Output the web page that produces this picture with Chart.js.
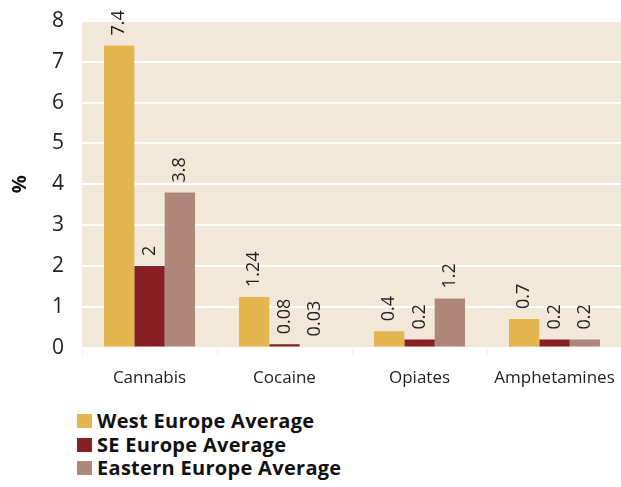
<!DOCTYPE html>
<html>
<head>
<meta charset="utf-8">
<script src="https://cdn.jsdelivr.net/npm/chart.js@4"></script>
<style>
  body { margin: 0; background: #fff; }
  #wrap { position: relative; width: 621px; height: 487px; overflow: hidden; }
  #chart { position: absolute; left: 0; top: 0; }
  #legend { position: absolute; left: 77px; top: 409px; font-family: "Open Sans", sans-serif;
            font-weight: bold; font-size: 20px; letter-spacing: 0.3px; line-height: 23.5px; color: #111; }
  #legend .box { display: inline-block; width: 15px; height: 14px; margin-right: 5px; vertical-align: baseline; }
</style>
</head>
<body>
<div id="wrap">
  <canvas id="chart" width="622" height="400"></canvas>
  <div id="legend"></div>
</div>
<script>
const categories = ["Cannabis", "Cocaine", "Opiates", "Amphetamines"];
const westEurope = [7.4, 1.24, 0.4, 0.7];
const seEurope = [2, 0.08, 0.2, 0.2];
const easternEurope = [3.8, 0.03, 1.2, 0.2];
const seriesNames = ["West Europe Average", "SE Europe Average", "Eastern Europe Average"];
const seriesColors = ["#e3b650", "#862025", "#ae877a"];

// beige plot background
const plotBackground = {
  id: "plotBackground",
  beforeDraw(chart) {
    const a = chart.chartArea;
    const ctx = chart.ctx;
    ctx.save();
    ctx.fillStyle = "#f1e8d9";
    ctx.fillRect(a.left, a.top, a.right - a.left, a.bottom - a.top);
    ctx.restore();
  }
};

// rotated value labels above the bars
const valueLabels = {
  id: "valueLabels",
  afterDatasetsDraw(chart) {
    const ctx = chart.ctx;
    ctx.save();
    ctx.font = "18px 'Open Sans', sans-serif";
    ctx.fillStyle = "#222";
    ctx.textAlign = "left";
    ctx.textBaseline = "middle";
    chart.data.datasets.forEach((ds, i) => {
      chart.getDatasetMeta(i).data.forEach((bar, j) => {
        ctx.save();
        ctx.translate(bar.x, bar.y - 10);
        ctx.rotate(-Math.PI / 2);
        ctx.fillText(String(ds.data[j]), 0, 0);
        ctx.restore();
      });
    });
    ctx.restore();
  }
};

const chart = new Chart(document.getElementById("chart").getContext("2d"), {
  type: "bar",
  data: {
    labels: categories,
    datasets: [westEurope, seEurope, easternEurope].map((d, i) => ({
      label: seriesNames[i],
      data: d,
      backgroundColor: seriesColors[i],
      categoryPercentage: 0.675,
      barPercentage: 1.0,
    })),
  },
  options: {
    responsive: false,
    animation: false,
    layout: { padding: 0 },
    plugins: {
      legend: { display: false },
      tooltip: { enabled: false },
    },
    scales: {
      x: {
        afterFit: (scale) => { scale.paddingRight = 0; scale.paddingLeft = 0; },
        grid: { drawOnChartArea: false, color: "#f2f2f2", tickLength: 8 },
        border: { display: false },
        ticks: { color: "#222", padding: 12, font: { family: "Open Sans", size: 17 } },
      },
      y: {
        min: 0,
        max: 8,
        afterFit: (scale) => { scale.width = 82; scale.paddingTop = 21; scale.paddingBottom = 0; },
        grid: { color: "#ffffff", lineWidth: 2, drawTicks: false },
        border: { display: false },
        ticks: { stepSize: 1, color: "#222", padding: 18, font: { family: "Open Sans", size: 21 } },
        title: { display: true, text: "%", color: "#111", padding: 8,
                 font: { family: "Open Sans", size: 20, weight: "bold" } },
      },
    },
  },
  plugins: [plotBackground, valueLabels],
});

const legend = document.getElementById("legend");
chart.data.datasets.forEach((ds) => {
  const row = document.createElement("div");
  const box = document.createElement("span");
  box.className = "box";
  box.style.background = ds.backgroundColor;
  row.appendChild(box);
  row.appendChild(document.createTextNode(ds.label));
  legend.appendChild(row);
});
</script>
</body>
</html>
